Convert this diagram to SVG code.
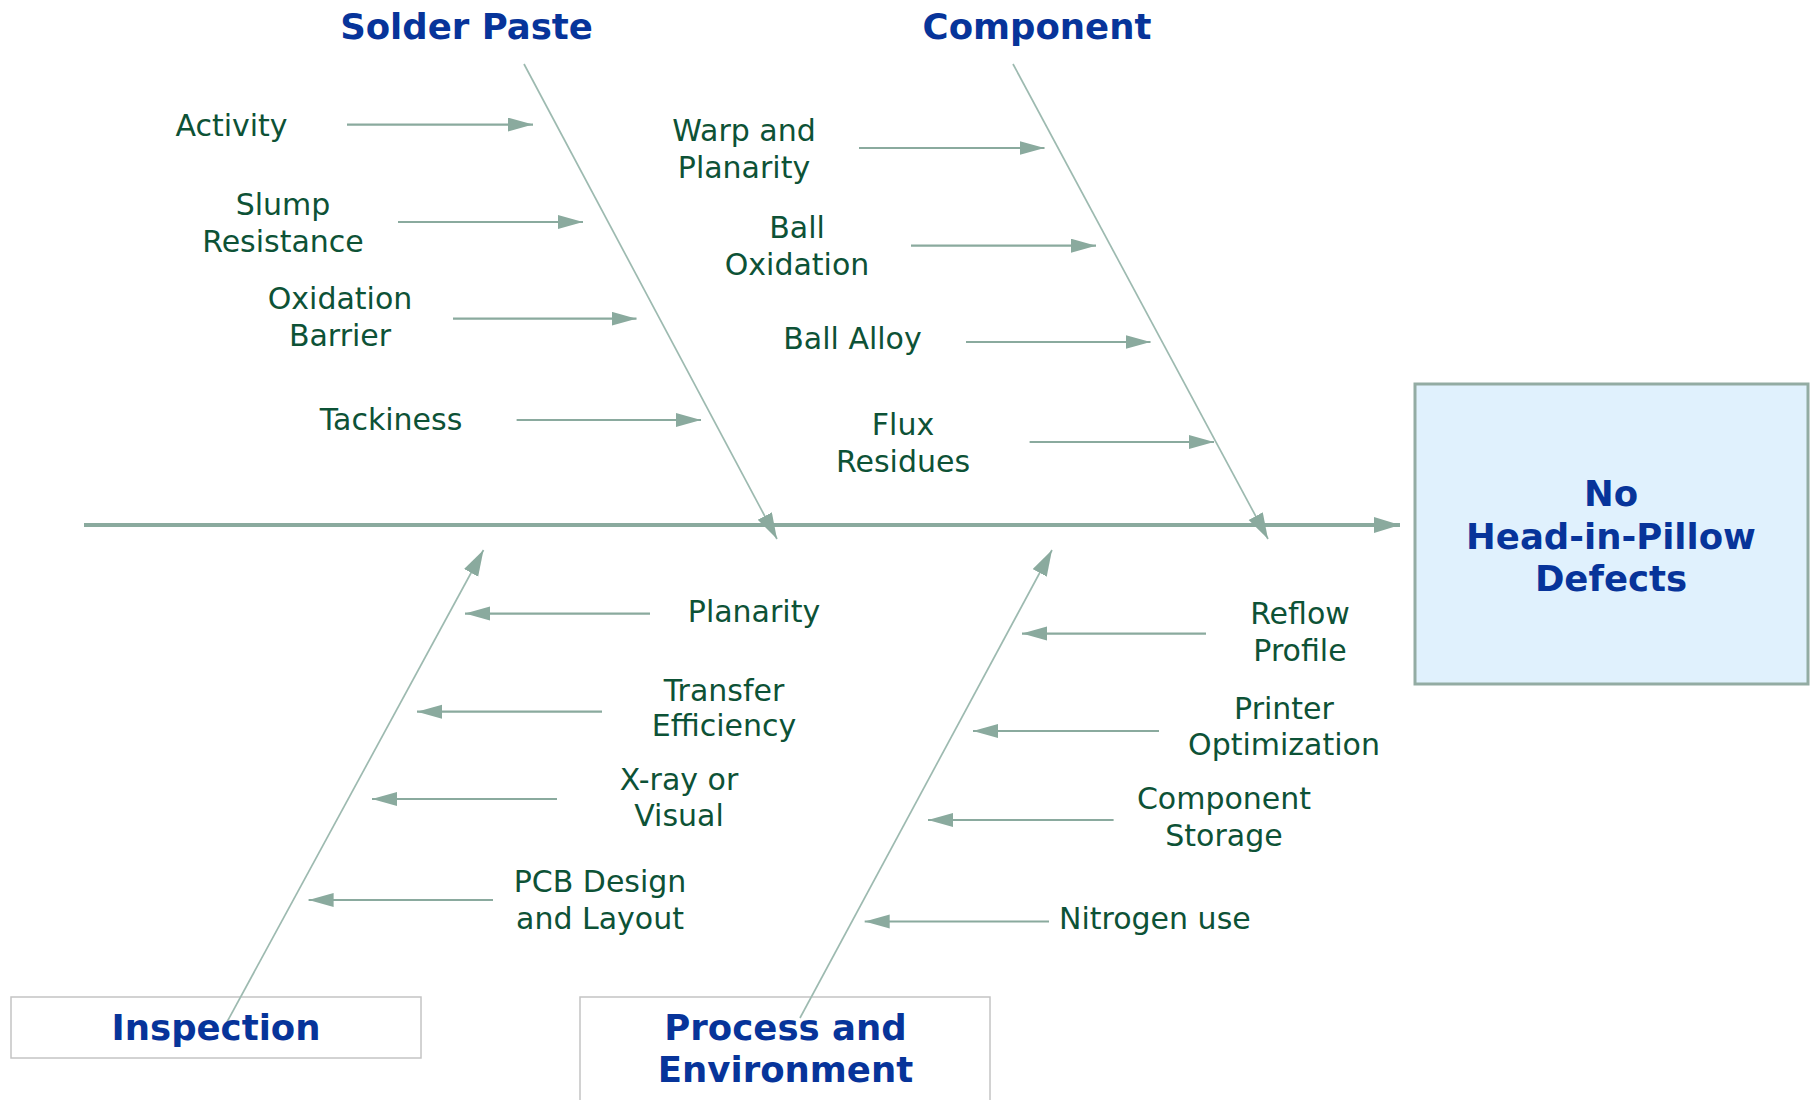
<svg xmlns="http://www.w3.org/2000/svg" width="1814" height="1100" viewBox="0 0 1814 1100">
<style>
.cat{font-family:"DejaVu Sans","Liberation Sans",sans-serif;font-weight:bold;font-size:35.5px;fill:#07349a;text-anchor:middle}
.sub{font-family:"DejaVu Sans","Liberation Sans",sans-serif;font-size:30px;fill:#0d5236;text-anchor:middle}
.arr{stroke:#8aaa9e;stroke-width:2.2;fill:none}
.bone{stroke:#9dbab0;stroke-width:1.7;fill:none}
.spine{stroke:#8aaa9e;stroke-width:4;fill:none}
.cbox{fill:#ffffff;stroke:#c4c4c4;stroke-width:1.5}
</style>
<defs>
<marker id="ah" markerUnits="userSpaceOnUse" markerWidth="27" markerHeight="16" refX="25" refY="7" orient="auto">
<path d="M0,0 L25,7 L0,14 z" fill="#8aaa9e"/>
</marker>
<marker id="bh" markerUnits="userSpaceOnUse" markerWidth="28" markerHeight="18" refX="26" refY="8" orient="auto">
<path d="M0,0 L26,8 L0,16 z" fill="#8aaa9e"/>
</marker>
</defs>

<g id="effect">
<rect x="1415" y="384" width="393" height="300" fill="#e0f1fd" stroke="#93aca3" stroke-width="3"/>
<text class="cat" x="1611" y="506">No</text>
<text class="cat" x="1611" y="549">Head-in-Pillow</text>
<text class="cat" x="1611" y="591">Defects</text>
</g>

<g id="inspection-box">
<rect class="cbox" x="11" y="997" width="410" height="61"/>
</g>
<g id="process-box">
<rect class="cbox" x="580" y="997" width="410" height="125"/>
</g>

<g id="connectors">
<line class="spine" x1="84" y1="525" x2="1400" y2="525" marker-end="url(#bh)"/>
<line class="bone" x1="524" y1="64" x2="777" y2="539" marker-end="url(#bh)"/>
<line class="bone" x1="1013" y1="64" x2="1268" y2="539" marker-end="url(#bh)"/>
<line class="bone" x1="227" y1="1022" x2="483.5" y2="550" marker-end="url(#bh)"/>
<line class="bone" x1="800" y1="1018" x2="1052" y2="550" marker-end="url(#bh)"/>

<line class="arr" x1="347" y1="124.6" x2="533" y2="124.6" marker-end="url(#ah)"/>
<line class="arr" x1="398" y1="222" x2="583" y2="222" marker-end="url(#ah)"/>
<line class="arr" x1="453" y1="318.7" x2="636.5" y2="318.7" marker-end="url(#ah)"/>
<line class="arr" x1="516.6" y1="420" x2="701" y2="420" marker-end="url(#ah)"/>
<line class="arr" x1="859" y1="148" x2="1044.5" y2="148" marker-end="url(#ah)"/>
<line class="arr" x1="911" y1="245.7" x2="1096" y2="245.7" marker-end="url(#ah)"/>
<line class="arr" x1="966" y1="342" x2="1150.5" y2="342" marker-end="url(#ah)"/>
<line class="arr" x1="1029.6" y1="442" x2="1214" y2="442" marker-end="url(#ah)"/>

<line class="arr" x1="650" y1="613.6" x2="465" y2="613.6" marker-end="url(#ah)"/>
<line class="arr" x1="602" y1="711.7" x2="417" y2="711.7" marker-end="url(#ah)"/>
<line class="arr" x1="557" y1="799" x2="372" y2="799" marker-end="url(#ah)"/>
<line class="arr" x1="493" y1="900" x2="308.6" y2="900" marker-end="url(#ah)"/>
<line class="arr" x1="1206" y1="633.6" x2="1022" y2="633.6" marker-end="url(#ah)"/>
<line class="arr" x1="1159" y1="731" x2="973" y2="731" marker-end="url(#ah)"/>
<line class="arr" x1="1113.6" y1="820" x2="928" y2="820" marker-end="url(#ah)"/>
<line class="arr" x1="1049" y1="921.5" x2="864.7" y2="921.5" marker-end="url(#ah)"/>
</g>

<g id="cat-solder-paste"><text class="cat" x="466.5" y="39">Solder Paste</text></g>
<g id="cat-component"><text class="cat" x="1037" y="39">Component</text></g>
<g id="cat-inspection"><text class="cat" x="216" y="1040">Inspection</text></g>
<g id="cat-process"><text class="cat" x="785.5" y="1040">Process and</text><text class="cat" x="785.5" y="1082">Environment</text></g>

<g id="activity"><text class="sub" x="231.5" y="136">Activity</text></g>
<g id="slump"><text class="sub" x="283" y="215">Slump</text><text class="sub" x="283" y="252">Resistance</text></g>
<g id="oxbarrier"><text class="sub" x="340" y="309">Oxidation</text><text class="sub" x="340" y="346">Barrier</text></g>
<g id="tackiness"><text class="sub" x="391" y="430">Tackiness</text></g>

<g id="warp"><text class="sub" x="744" y="141">Warp and</text><text class="sub" x="744" y="178">Planarity</text></g>
<g id="balloxid"><text class="sub" x="797" y="238">Ball</text><text class="sub" x="797" y="275">Oxidation</text></g>
<g id="ballalloy"><text class="sub" x="852.5" y="349">Ball Alloy</text></g>
<g id="flux"><text class="sub" x="903" y="435">Flux</text><text class="sub" x="903" y="472">Residues</text></g>

<g id="planarity"><text class="sub" x="754" y="622">Planarity</text></g>
<g id="transfer"><text class="sub" x="724" y="701">Transfer</text><text class="sub" x="724" y="736">Efficiency</text></g>
<g id="xray"><text class="sub" x="679" y="790">X-ray or</text><text class="sub" x="679" y="826">Visual</text></g>
<g id="pcb"><text class="sub" x="600" y="892">PCB Design</text><text class="sub" x="600" y="929">and Layout</text></g>

<g id="reflow"><text class="sub" x="1300" y="624">Reflow</text><text class="sub" x="1300" y="661">Profile</text></g>
<g id="printer"><text class="sub" x="1284" y="719">Printer</text><text class="sub" x="1284" y="755">Optimization</text></g>
<g id="storage"><text class="sub" x="1224" y="809">Component</text><text class="sub" x="1224" y="846">Storage</text></g>
<g id="nitrogen"><text class="sub" x="1059" y="929" style="text-anchor:start">Nitrogen use</text></g>
</svg>
